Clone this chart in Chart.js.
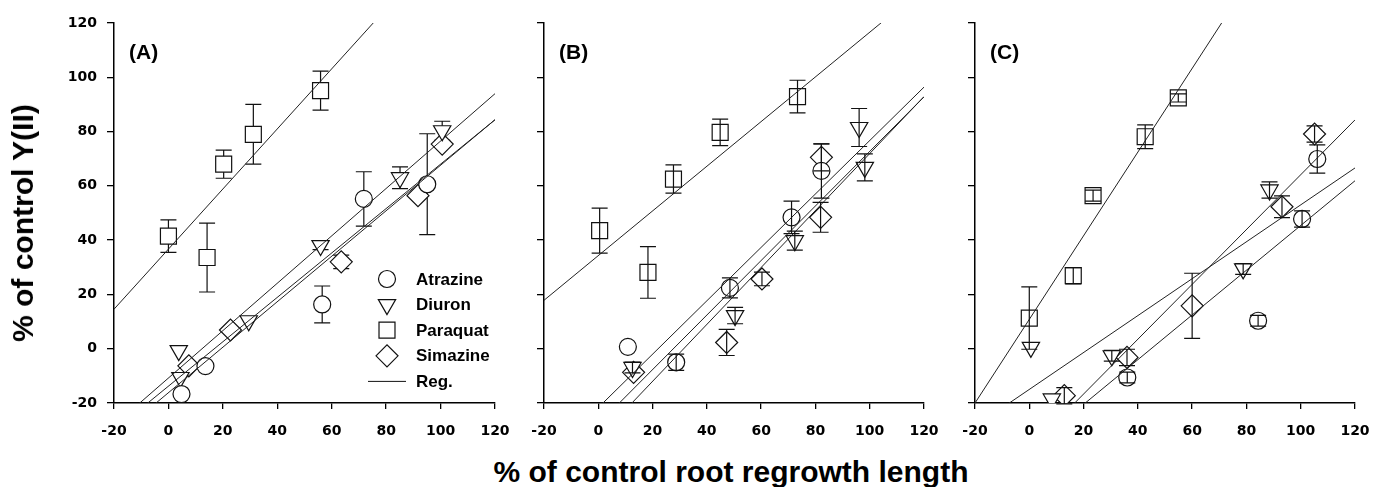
<!DOCTYPE html>
<html>
<head>
<meta charset="utf-8">
<script src="https://cdn.jsdelivr.net/npm/chart.js@4"></script>
<style>
  body { margin: 0; background: #fff; width: 1373px; height: 487px; position: relative; overflow: hidden; }
  canvas { position: absolute; top: 0; }
  .axis-title { position: absolute; font-family: "Liberation Sans", Arial, sans-serif; font-weight: bold; color: #000; white-space: nowrap; }
  #xTitle { left: 731px; top: 457px; font-size: 30px; line-height: 30px; transform: translateX(-50%); }
  #yTitle { left: 23px; top: 223px; font-size: 30px; line-height: 30px; transform: translate(-50%, -50%) rotate(-90deg); }
</style>
</head>
<body>
<canvas id="panelA" width="510" height="440" style="left:0px"></canvas>
<canvas id="panelB" width="430" height="440" style="left:510px"></canvas>
<canvas id="panelC" width="433" height="440" style="left:940px"></canvas>
<div id="yTitle" class="axis-title">% of control Y(II)</div>
<div id="xTitle" class="axis-title">% of control root regrowth length</div>
<script>
  // both axes run -20..120 in steps of 20
  const AXIS_MIN = -20;
  const AXIS_MAX = 120;
  const AXIS_STEP = 20;
  const SERIES = ['Atrazine', 'Diuron', 'Paraquat', 'Simazine'];

  // each point: [root regrowth %, Y(II) %, error bar]
  const aAtrazine = [[4.8, -16.7, 0], [13.6, -6.4, 0], [56.5, 16.3, 6.8], [71.8, 55.2, 10], [95.1, 60.6, 18.6]];
  const aDiuron = [[3.8, -0.7, 0], [4.4, -10.6, 0], [29.5, 10.3, 0], [55.9, 38, 1.5], [85.1, 63, 4], [100.6, 80.3, 3.5]];
  const aParaquat = [[0, 41.5, 6], [14.2, 33.6, 12.7], [20.3, 68, 5.2], [31.2, 79, 11], [55.9, 95.1, 7.2]];
  const aSimazine = [[7.5, -6.3, 0], [22.8, 6.9, 0], [63.5, 32, 2.5], [91.7, 56.4, 0], [100.6, 75.4, 0]];
  const aRegSlope = [0.838, 0.873, 1.107, 0.818];
  const aRegIntercept = [-16.2, -10.8, 36.7, -13.8];

  const bAtrazine = [[10.9, 0.7, 0], [28.7, -5, 3], [48.5, 22.4, 3.7], [71.2, 48.4, 6], [82.2, 65.5, 10]];
  const bDiuron = [[12.6, -6.9, 2], [50.4, 12.2, 3], [72.4, 39.8, 3.5], [96.1, 81.5, 7], [98.2, 66.8, 5]];
  const bParaquat = [[0.5, 43.5, 8.3], [18.3, 28.1, 9.5], [27.7, 62.5, 5.2], [44.9, 79.7, 4.9], [73.4, 92.9, 6]];
  const bSimazine = [[13, -8.7, 0], [47.3, 2.3, 4.8], [60.3, 25.7, 2.5], [81.9, 48.4, 5.5], [82.2, 70.5, 5]];
  const bRegSlope = [0.984, 1.049, 0.823, 1.005];
  const bRegIntercept = [-21.7, -33.0, 34.3, -27.8];

  const cAtrazine = [[36.1, -10.6, 2], [84.3, 10.3, 2], [100.5, 47.8, 3], [106.1, 69.9, 5.2]];
  const cDiuron = [[0.6, 0.5, 0], [8.3, -18.5, 0], [30.4, -2.6, 2], [78.8, 29.4, 2], [88.5, 58.5, 3]];
  const cParaquat = [[0, 11.3, 11.5], [16.2, 26.9, 3], [23.5, 56.4, 2], [42.7, 78.1, 4.4], [54.9, 92.4, 1.5]];
  const cSimazine = [[12.9, -17.3, 3], [36, -3.2, 3], [60, 15.8, 12], [93.1, 52.3, 4], [105.1, 79.1, 3]];
  const cRegSlope = [0.824, 0.68, 1.541, 1.01];
  const cRegIntercept = [-37, -15, 10.8, -36.9];

  const INK = '#111';
  const MARKERS = [
    { pointStyle: 'circle', radius: 8.5, rotation: 0 },
    { pointStyle: 'triangle', radius: 10, rotation: 180 },
    { pointStyle: 'rect', radius: 11.3, rotation: 0 },
    { pointStyle: 'rectRot', radius: 11, rotation: 0 },
  ];

  function drawErrorBars(chart) {
    const ctx = chart.ctx;
    const xScale = chart.scales.x;
    const yScale = chart.scales.y;
    ctx.save();
    ctx.strokeStyle = INK;
    ctx.lineWidth = 1.2;
    chart.data.datasets.forEach((dataset) => {
      if (!dataset.errors) return;
      dataset.data.forEach((point, i) => {
        const err = dataset.errors[i];
        if (!err) return;
        const x = xScale.getPixelForValue(point.x);
        const top = yScale.getPixelForValue(point.y + err);
        const bottom = yScale.getPixelForValue(point.y - err);
        ctx.beginPath();
        ctx.moveTo(x, top);
        ctx.lineTo(x, bottom);
        ctx.moveTo(x - 8, top);
        ctx.lineTo(x + 8, top);
        ctx.moveTo(x - 8, bottom);
        ctx.lineTo(x + 8, bottom);
        ctx.stroke();
      });
    });
    ctx.restore();
  }

  const errorBarPlugin = {
    id: 'errorBars',
    beforeDatasetsDraw(chart, args, opts) {
      if (opts.under) drawErrorBars(chart);
    },
    afterDatasetsDraw(chart, args, opts) {
      if (!opts.under) drawErrorBars(chart);
    },
  };

  const panelTagPlugin = {
    id: 'panelTag',
    afterDraw(chart, args, opts) {
      const ctx = chart.ctx;
      ctx.save();
      ctx.font = 'bold 21px "Liberation Sans", Arial, sans-serif';
      ctx.fillStyle = '#000';
      ctx.textBaseline = 'alphabetic';
      ctx.fillText(opts.text, chart.chartArea.left + 15, chart.chartArea.top + 36);
      ctx.restore();
    },
  };

  function drawMarker(ctx, style, x, y) {
    if (Chart.helpers && Chart.helpers.drawPoint) {
      Chart.helpers.drawPoint(ctx, { pointStyle: style.pointStyle, radius: style.radius, rotation: style.rotation, borderWidth: 1.2 }, x, y);
    }
  }

  const keyPlugin = {
    id: 'key',
    afterDraw(chart, args, opts) {
      if (!opts.show) return;
      const ctx = chart.ctx;
      const symbolX = chart.chartArea.left + 273;
      const textX = chart.chartArea.left + 302;
      const rowGap = 25.6;
      const firstRow = 279;
      ctx.save();
      ctx.strokeStyle = INK;
      ctx.lineWidth = 1.2;
      SERIES.forEach((name, i) => {
        ctx.fillStyle = '#fff';
        drawMarker(ctx, MARKERS[i], symbolX, firstRow + i * rowGap);
      });
      const regY = firstRow + 4 * rowGap;
      ctx.beginPath();
      ctx.moveTo(symbolX - 19, regY);
      ctx.lineTo(symbolX + 19, regY);
      ctx.lineWidth = 1;
      ctx.stroke();
      ctx.fillStyle = '#000';
      ctx.font = 'bold 17px "Liberation Sans", Arial, sans-serif';
      ctx.textBaseline = 'middle';
      SERIES.concat(['Reg.']).forEach((name, i) => {
        ctx.fillText(name, textX, firstRow + i * rowGap + 1);
      });
      ctx.restore();
    },
  };

  function axisOptions(showLabels, fitSize, isX) {
    return {
      type: 'linear',
      min: AXIS_MIN,
      max: AXIS_MAX,
      border: { display: true, color: '#000', width: 1.5 },
      grid: { display: true, drawOnChartArea: false, drawTicks: true, tickLength: isX ? 6 : 7, color: '#000', lineWidth: 1.3 },
      ticks: {
        stepSize: AXIS_STEP,
        autoSkip: false,
        maxRotation: 0,
        padding: isX ? 14 : 10,
        color: '#000',
        font: { family: '"DejaVu Sans", sans-serif', weight: 'bold', size: 14 },
        callback: (value) => (showLabels ? String(value) : ''),
      },
      afterFit: (scale) => {
        // fixed box sizes so the three plot areas line up with the figure
        if (isX) {
          scale.height = fitSize;
          scale.paddingLeft = 0;
          scale.paddingRight = 0;
        } else {
          scale.width = fitSize;
          scale.paddingTop = 0;
          scale.paddingBottom = 0;
        }
      },
    };
  }

  function buildPanel(canvasId, tag, series, slopes, intercepts, cfg) {
    const datasets = [];
    series.forEach((points, i) => {
      const style = MARKERS[i];
      datasets.push({
        type: 'scatter',
        label: SERIES[i],
        data: points.map((p) => ({ x: p[0], y: p[1] })),
        errors: points.map((p) => p[2]),
        pointStyle: style.pointStyle,
        pointRadius: style.radius,
        pointRotation: style.rotation,
        pointBackgroundColor: '#fff',
        pointBorderColor: INK,
        pointBorderWidth: 1.2,
        order: 2,
      });
    });
    slopes.forEach((slope, i) => {
      const b = intercepts[i];
      datasets.push({
        type: 'line',
        label: SERIES[i] + ' reg.',
        data: [
          { x: AXIS_MIN, y: b + slope * AXIS_MIN },
          { x: AXIS_MAX, y: b + slope * AXIS_MAX },
        ],
        borderColor: '#222',
        borderWidth: 1,
        pointRadius: 0,
        fill: false,
        tension: 0,
        clip: 0,
        order: 1,
      });
    });

    return new Chart(document.getElementById(canvasId), {
      type: 'scatter',
      data: { datasets },
      options: {
        responsive: false,
        animation: false,
        events: [],
        layout: { padding: { left: 0, right: cfg.rightPad, top: 23, bottom: 0 } },
        scales: {
          x: axisOptions(true, 37, true),
          y: axisOptions(cfg.yLabels, cfg.yWidth, false),
        },
        plugins: {
          legend: { display: false },
          tooltip: { enabled: false },
          errorBars: { under: cfg.barsUnder },
          panelTag: { text: tag },
          key: { show: cfg.key },
        },
      },
      plugins: [errorBarPlugin, panelTagPlugin, keyPlugin],
    });
  }

  buildPanel('panelA', '(A)', [aAtrazine, aDiuron, aParaquat, aSimazine], aRegSlope, aRegIntercept,
    { yWidth: 114, rightPad: 15, yLabels: true, barsUnder: true, key: true });
  buildPanel('panelB', '(B)', [bAtrazine, bDiuron, bParaquat, bSimazine], bRegSlope, bRegIntercept,
    { yWidth: 34, rightPad: 16, yLabels: false, barsUnder: false, key: false });
  buildPanel('panelC', '(C)', [cAtrazine, cDiuron, cParaquat, cSimazine], cRegSlope, cRegIntercept,
    { yWidth: 35, rightPad: 18, yLabels: false, barsUnder: false, key: false });
</script>
</body>
</html>
